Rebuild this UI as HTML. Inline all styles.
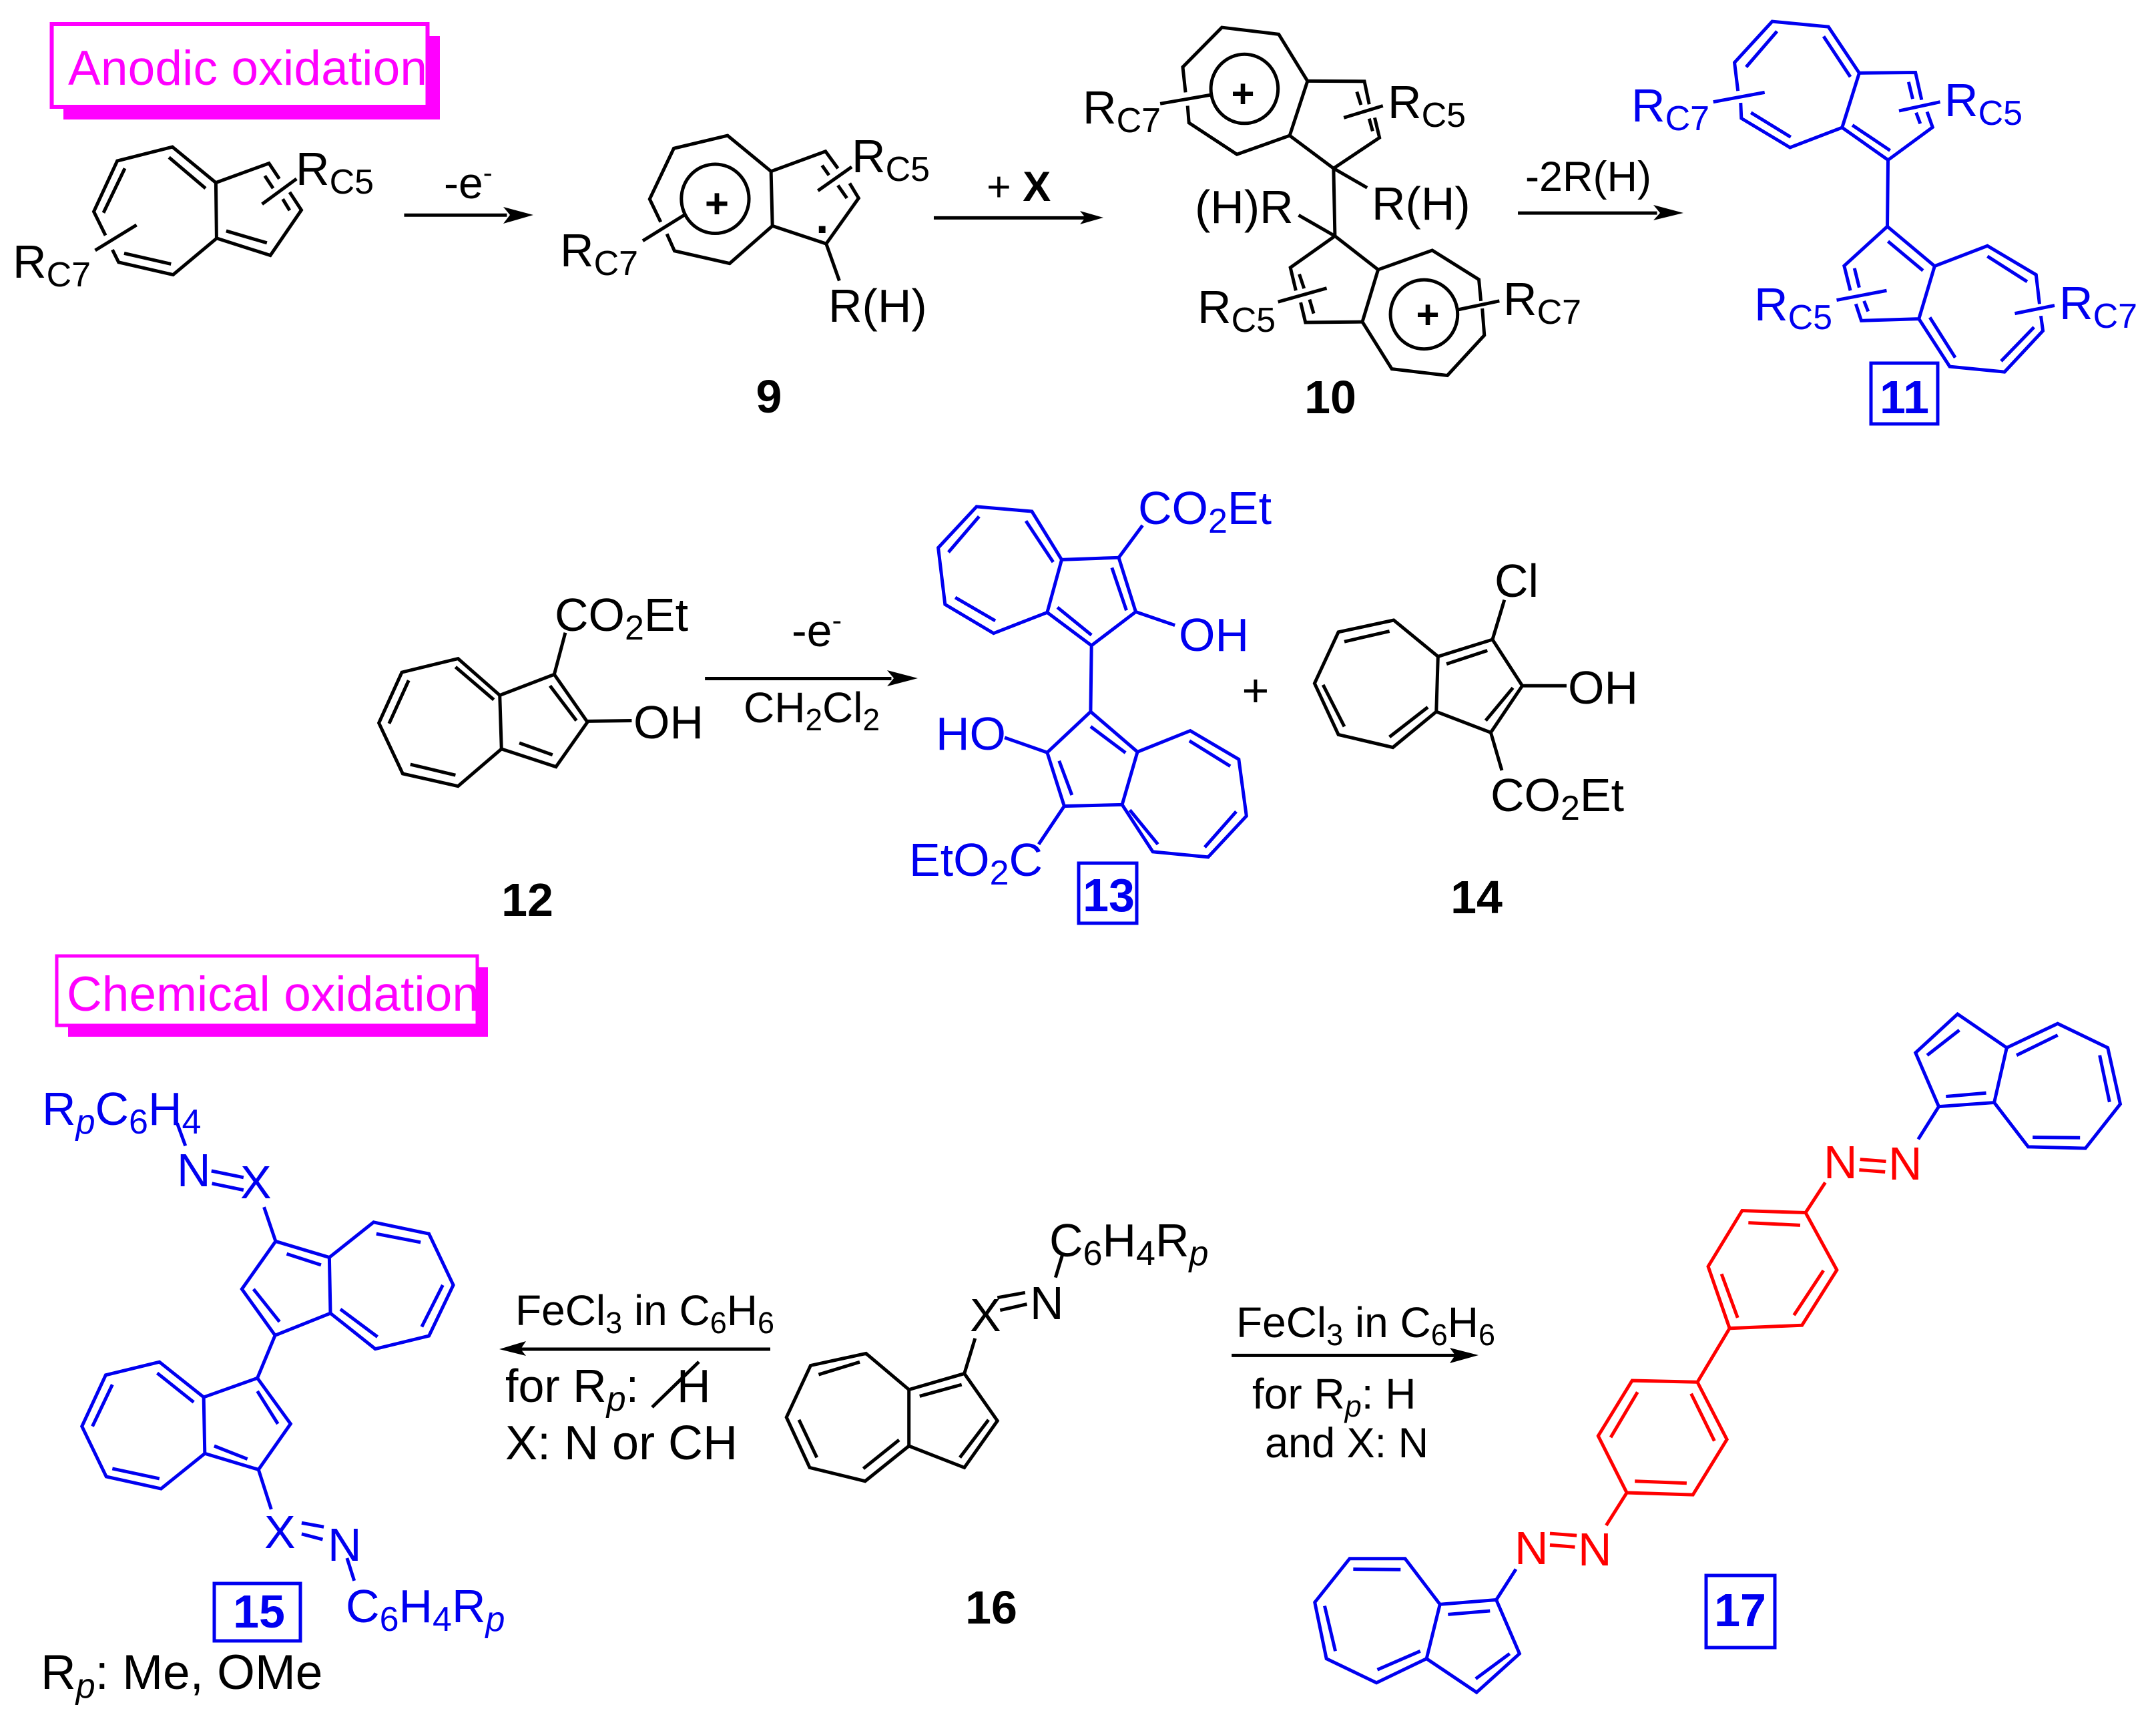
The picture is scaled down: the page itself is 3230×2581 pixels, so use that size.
<!DOCTYPE html>
<html><head><meta charset="utf-8"><style>
html,body{margin:0;padding:0;background:#fff}
svg{display:block}
path{fill:none;stroke-width:5;stroke-linejoin:miter;stroke-linecap:butt;vector-effect:non-scaling-stroke}
ellipse{fill:none;stroke-width:5;vector-effect:non-scaling-stroke}
.k path,.k ellipse{stroke:#000}
.b path{stroke:#0000f0}
.r path{stroke:#f00}
text{font-family:"Liberation Sans",sans-serif;font-size:70px;fill:#000}
.bl text,text.bl{fill:#0000f0}
.rd text{fill:#f00}
text.m{fill:#f0f;font-size:73px}
text.n{font-weight:bold;font-size:70px;text-anchor:middle}
.s{font-size:52px}
.i{font-style:italic}
</style></head><body>
<svg xmlns="http://www.w3.org/2000/svg" width="3230" height="2581" viewBox="0 0 3230 2581">
<rect width="3230" height="2581" fill="#fff"/>

<!-- label boxes -->
<rect x="95" y="54" width="564" height="125" fill="#f0f"/>
<rect x="77.500" y="36" width="563" height="124" fill="#fff" stroke="#f0f" stroke-width="6"/>
<text class="m" x="102" y="127" textLength="538">Anodic oxidation</text>
<rect x="102" y="1449" width="629" height="104" fill="#f0f"/>
<rect x="85" y="1432" width="630" height="104" fill="#fff" stroke="#f0f" stroke-width="5"/>
<text class="m" x="100" y="1514" textLength="618">Chemical oxidation</text>

<!-- Zone A -->
<g class="k" transform="scale(1.0332,.4464)">
<path d="M313 613 250 493 170 540 136 710 153 790M163 838 172 880 251 922 314 800 313 613M245 528 298 632M181 565 150 714M180 850 248 886"/>
<path d="M313 613 390 548 405 600M420 645 437 705 392 857 315 800M384 590 396 632M410 668 420 706M328 775 387 815M380 685 430 600M138 840 198 755"/>
<path d="M1118 575 1055 455 977 498 942 668 958 745M967 785 978 842 1058 884 1120 758 1118 575"/>
<path d="M1118 575 1197 508 1215 565M1232 615 1245 665 1198 818 1120 758M1192 555 1202 588M1215 622 1228 665M1186 640 1235 560M932 808 992 722M1198 818 1217 942"/>
<ellipse cx="1037" cy="667" rx="49" ry="116"/>
<path d="M586 722H735"/>
<path d="M1354 731H1580"/>
</g>
<polygon points="799,322 754,310 764,322 754,335"/>
<polygon points="1653,326 1618,316 1626,326 1618,336"/>
<text x="443" y="277">R<tspan class="s" dy="13">C5</tspan></text>
<text x="19" y="416">R<tspan class="s" dy="13">C7</tspan></text>
<text x="839" y="399">R<tspan class="s" dy="13">C7</tspan></text>
<text x="1276" y="258">R<tspan class="s" dy="13">C5</tspan></text>
<text x="1241" y="482">R(H)</text>
<text x="1074" y="326" text-anchor="middle" font-weight="bold" style="font-size:62px">+</text>
<text x="1222" y="349" font-weight="bold">.</text>
<text class="n" x="1152" y="618">9</text>
<text x="665" y="297" style="font-size:66px">-e<tspan dy="-24" style="font-size:42px">-</tspan></text>
<text x="1478" y="301" style="font-size:63px">+ <tspan font-weight="bold">X</tspan></text>

<!-- Zone B -->
<g class="k" transform="translate(1620,0) scale(1.0268,.4464)">
<path d="M330 272 288 115 205 92 148 225 152 310M155 355 157 412 227 518 304 455 330 272"/>
<path d="M330 272 413 273 420 350M428 395 435 462 368 565 304 455M402 308 408 352M420 398 425 440M383 395 440 355"/>
<ellipse cx="238" cy="298" rx="49" ry="116"/>
<path d="M115 348 190 318M368 565 370 792M368 565 417 630M317 722 370 792"/>
<path d="M370 792 433 905 512 840 580 938 583 1010M585 1035 588 1125 534 1260 453 1238 410 1080 433 905M548 1040 610 1010"/>
<path d="M370 792 305 898 313 975M320 1015 327 1082 410 1080M318 920 325 968M333 1005 339 1052M287 1013 358 967"/>
<ellipse cx="500" cy="1055" rx="49" ry="116"/>
<path d="M637 715H840"/>
</g>
<polygon points="2522,319 2477,307 2487,319 2477,330"/>
<text x="1622" y="185">R<tspan class="s" dy="13">C7</tspan></text>
<text x="2079" y="177">R<tspan class="s" dy="13">C5</tspan></text>
<text x="2055" y="329">R(H)</text>
<text x="1790" y="334">(H)R</text>
<text x="1794" y="484">R<tspan class="s" dy="13">C5</tspan></text>
<text x="2252" y="472">R<tspan class="s" dy="13">C7</tspan></text>
<text x="1862" y="161" text-anchor="middle" font-weight="bold" style="font-size:60px">+</text>
<text x="2139" y="492" text-anchor="middle" font-weight="bold" style="font-size:60px">+</text>
<text class="n" x="1993" y="619">10</text>
<text x="2285" y="286" style="font-size:63px">-2R(H)</text>

<g class="b" transform="translate(1620,0) scale(1.0268,.4464)">
<path d="M1135 245 1090 90 1008 72 953 210 958 305M962 345 963 397 1034 495 1110 428 1135 245M1083 122 1122 258M1015 105 970 225M977 378 1035 460"/>
<path d="M1135 245 1217 243 1226 335M1234 375 1242 427 1177 537 1110 428M1207 275 1213 332M1218 378 1224 415M1125 420 1180 505M1193 372 1253 342M922 342 997 310M1177 537 1176 760"/>
<path d="M1176 760 1245 893 1322 825 1393 922 1398 1020M1400 1060 1403 1110 1347 1248 1267 1230 1222 1070 1245 893M1176 760 1113 892 1122 975M1130 1020 1138 1076 1222 1070"/>
<path d="M1177 810 1228 908M1322 860 1380 945M1128 900 1135 965M1142 1010 1148 1045M1238 1065 1275 1200M1390 1098 1342 1212M1102 1007 1175 975M1362 1052 1420 1025"/>
</g>
<g class="bl">
<text x="2444" y="182">R<tspan class="s" dy="13">C7</tspan></text>
<text x="2913" y="174">R<tspan class="s" dy="13">C5</tspan></text>
<text x="2628" y="480">R<tspan class="s" dy="13">C5</tspan></text>
<text x="3085" y="478">R<tspan class="s" dy="13">C7</tspan></text>
<text class="n" x="2853" y="619">11</text>
<text class="n" x="1661" y="1365">13</text>
<text class="n" x="388" y="2438">15</text>
<text class="n" x="2607" y="2436">17</text>
<text x="1705" y="785">CO<tspan class="s" dy="13">2</tspan><tspan dy="-13">Et</tspan></text>
<text x="1766" y="975">OH</text>
<text x="1402" y="1123">HO</text>
<text x="1362" y="1312">EtO<tspan class="s" dy="13">2</tspan><tspan dy="-13">C</tspan></text>
<text x="63" y="1685">R<tspan class="s i" dy="13">p</tspan><tspan dy="-13">C</tspan><tspan class="s" dy="13">6</tspan><tspan dy="-13">H</tspan><tspan class="s" dy="13">4</tspan></text>
<text x="265" y="1777">N</text>
<text x="360" y="1795">X</text>
<text x="396" y="2319">X</text>
<text x="491" y="2338">N</text>
<text x="518" y="2430">C<tspan class="s" dy="13">6</tspan><tspan dy="-13">H</tspan><tspan class="s" dy="13">4</tspan><tspan dy="-13">R</tspan><tspan class="s i" dy="13">p</tspan></text>
</g>
<g fill="none" stroke="#0000f0" stroke-width="5">
<rect x="2803" y="544" width="100" height="91"/>
<rect x="1616" y="1293" width="87" height="90"/>
<rect x="321" y="2372" width="129" height="86"/>
<rect x="2556" y="2360" width="103" height="108"/>
</g>

<!-- Zone C -->
<g class="k" transform="translate(500,700) scale(1.2755,.4464)">
<path d="M195 765 146 642 80 688 53 858 81 1028 146 1070 197 945 195 765M143 670 188 780M88 715 65 860M90 997 143 1033"/>
<path d="M195 765 259 695 298 855 261 1005 197 945M254 733 285 850M218 925 257 965M259 695 272 555M298 852 350 850"/>
<path d="M436 709H655"/>
<path d="M1297 635 1245 513 1180 553 1152 725 1180 897 1244 940 1295 820 1297 635M1187 585 1240 550M1162 730 1187 870M1240 905 1285 805"/>
<path d="M1297 635 1361 578 1396 733 1359 890 1295 820M1307 660 1355 615M1385 740 1353 850M1361 578 1375 445M1396 733 1448 733M1359 890 1372 1017"/>
</g>
<polygon points="1375,1016 1329,1004 1339,1016 1329,1028"/>
<text x="831" y="945">CO<tspan class="s" dy="13">2</tspan><tspan dy="-13">Et</tspan></text>
<text x="949" y="1106">OH</text>
<text class="n" x="790" y="1372">12</text>
<text x="1186" y="968" style="font-size:68px">-e<tspan dy="-24" style="font-size:44px">-</tspan></text>
<text x="1114" y="1082" style="font-size:64px">CH<tspan style="font-size:46px" dy="12">2</tspan><tspan dy="-12">Cl</tspan><tspan style="font-size:46px" dy="12">2</tspan></text>
<text x="1881" y="1058" text-anchor="middle">+</text>
<text x="2239" y="894">Cl</text>
<text x="2349" y="1054">OH</text>
<text x="2233" y="1215">CO<tspan class="s" dy="13">2</tspan><tspan dy="-13">Et</tspan></text>
<text class="n" x="2212" y="1368">14</text>

<g class="b" transform="translate(500,700) scale(1.2755,.4464)">
<path d="M855 310 820 148 755 132 710 270 718 460 775 557 838 487 855 310M813 180 845 318M758 165 722 285M730 437 777 515"/>
<path d="M855 310 922 303 942 485 890 598 838 487M914 337 931 480M850 470 890 563M922 303 950 195M942 485 988 530M890 598 889 820"/>
<path d="M889 820 944 955 1006 884 1063 980 1072 1170 1027 1308 962 1290 926 1132 944 955M889 820 838 957 858 1137 926 1132"/>
<path d="M889 870 930 958M1005 918 1053 1003M1060 1155 1023 1275M935 1150 968 1265M852 985 867 1100M838 957 788 907M858 1137 828 1265"/>
</g>

<!-- Zone D -->
<g class="b" transform="translate(0,1400) scale(.8292,.7532)">
<path d="M320 375 335 420M382 470 440 483M383 495 440 508M477 542 498 610"/>
<path d="M498 610 595 642 597 753 497 797 437 705 498 610M595 642 675 572 775 595 819 697 775 798 678 824 597 753"/>
<path d="M518 635 580 657M458 705 505 770M680 595 760 612M800 697 762 780M682 800 615 745M497 797 465 882"/>
<path d="M465 882 525 973 467 1064 370 1032 368 920 465 882M368 920 288 850 191 876 148 978 192 1078 291 1102 370 1032"/>
<path d="M465 908 502 973M447 1043 387 1017M350 930 284 872M203 895 167 978M203 1062 288 1082M467 1064 490 1143"/>
<path d="M545 1170 585 1178M545 1192 583 1203M627 1240 640 1285"/>
</g>
<text x="61" y="2530" style="font-size:73px">R<tspan class="s i" dy="13">p</tspan><tspan dy="-13">: Me, OMe</tspan></text>
<text x="772" y="1985" style="font-size:64px">FeCl<tspan style="font-size:45px" dy="12">3</tspan><tspan dy="-12"> in C</tspan><tspan style="font-size:45px" dy="12">6</tspan><tspan dy="-12">H</tspan><tspan style="font-size:45px" dy="12">6</tspan></text>
<path d="M1154 2021H775" stroke="#000" stroke-width="4"/>
<polygon points="748,2021 788,2009 780,2021 788,2031"/>
<text x="757" y="2100">for R<tspan class="s i" dy="13">p</tspan><tspan dy="-13">:</tspan><tspan x="1014">H</tspan></text>
<path d="M977 2108 1047 2040" stroke="#000" stroke-width="4" fill="none"/>
<text x="757" y="2186" style="font-size:72px">X: N or CH</text>

<!-- Zone E -->
<g class="k" transform="translate(1130,1400) scale(1.3393,.7532)">
<path d="M173 905 125 833 63 857 36 960 62 1060 124 1087 173 1017 173 905M118 850 72 875M50 965 70 1040M122 1062 162 1005"/>
<path d="M173 905 235 873 272 967 235 1060 173 1017M185 918 232 895M262 965 230 1040M235 873 247 803M272 722 303 712M275 747 305 735M337 682 345 635"/>
<path d="M534 837H785"/>
</g>
<polygon points="2215,2030 2172,2019 2180,2030 2172,2042"/>
<text x="1453" y="1994">X</text>
<text x="1543" y="1976">N</text>
<text x="1572" y="1882">C<tspan class="s" dy="13">6</tspan><tspan dy="-13">H</tspan><tspan class="s" dy="13">4</tspan><tspan dy="-13">R</tspan><tspan class="s i" dy="13">p</tspan></text>
<text class="n" x="1485" y="2432">16</text>
<text x="1852" y="2003" style="font-size:64px">FeCl<tspan style="font-size:45px" dy="12">3</tspan><tspan dy="-12"> in C</tspan><tspan style="font-size:45px" dy="12">6</tspan><tspan dy="-12">H</tspan><tspan style="font-size:45px" dy="12">6</tspan></text>
<text x="1876" y="2110" style="font-size:64px">for R<tspan style="font-size:45px" class="i" dy="12">p</tspan><tspan dy="-12">: H</tspan></text>
<text x="1895" y="2183" style="font-size:63px">and X: N</text>

<g class="b" transform="translate(1130,1400) scale(1.3393,.7532)">
<path d="M1325 342 1387 334 1401 225 1346 158 1299 235 1325 342M1333 322 1378 315M1312 240 1348 190"/>
<path d="M1401 225 1458 177 1514 225 1528 337 1489 425 1425 422 1387 334M1412 240 1458 200M1505 240 1516 333M1483 404 1430 403M1325 342 1302 407"/>
<path d="M852 1262 830 1323M830 1323 767 1332 752 1440 808 1507 856 1430 830 1323M823 1345 776 1352M845 1430 807 1480"/>
<path d="M767 1332 728 1241 666 1241 627 1328 640 1440 696 1488 752 1440M723 1263 670 1262M638 1335 650 1425M697 1462 745 1425"/>
</g>
<g class="r" transform="translate(1130,1400) scale(1.3393,.7532)">
<path d="M1237 447 1266 451M1236 468 1265 472M1198 493 1176 553"/>
<path d="M1176 553 1105 549 1067 660 1091 783 1172 777 1211 667 1176 553M1170 578 1112 573M1082 675 1100 762M1163 757 1196 668M1091 783 1055 890"/>
<path d="M1055 890 982 887 944 997 976 1110 1050 1114 1088 1004 1055 890M1048 913 1074 1007M988 910 958 1000M985 1087 1043 1091M976 1110 953 1175"/>
<path d="M890 1191 920 1195M890 1214 918 1218"/>
</g>
<g class="rd">
<text x="2732" y="1765">N</text>
<text x="2829" y="1767">N</text>
<text x="2269" y="2343">N</text>
<text x="2364" y="2345">N</text>
</g>
</svg>
</body></html>
